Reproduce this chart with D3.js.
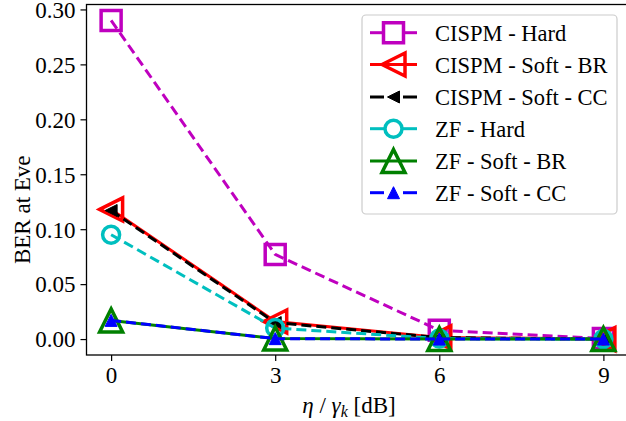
<!DOCTYPE html>
<html>
<head>
<meta charset="utf-8">
<script src="https://cdn.jsdelivr.net/npm/d3@7"></script>
<style>
  html, body { margin: 0; padding: 0; background: #fff; }
  svg { display: block; }
</style>
</head>
<body>
<svg id="chart" width="626" height="421"></svg>
<script>
// ---- data ----
const xValues = [0, 3, 6, 9];
const xTickLabels = ["0", "3", "6", "9"];
const yTickValues = [0.00, 0.05, 0.10, 0.15, 0.20, 0.25, 0.30];
const seriesNames = ["CISPM - Hard", "CISPM - Soft - BR", "CISPM - Soft - CC", "ZF - Hard", "ZF - Soft - BR", "ZF - Soft - CC"];
const cispmHard   = [0.290, 0.077, 0.008, 0.0005];
const cispmSoftBR = [0.118, 0.016, 0.0015, 0.0];
const cispmSoftCC = [0.117, 0.015, 0.0013, 0.0];
const zfHard      = [0.095, 0.010, 0.0005, 0.0];
const zfSoftBR    = [0.017, 0.0005, 0.0, 0.0];
const zfSoftCC    = [0.017, 0.0004, 0.0, 0.0];

const FONT = '"Liberation Serif", "Times New Roman", serif';

const styles = [
  { color: "#bf00bf", dash: "10,5", marker: "square", size: 20, fill: "none" },
  { color: "#ff0000", dash: null, marker: "triLeft", size: 23, fill: "none" },
  { color: "#000000", dash: "10,5", marker: "triLeft", size: 12, fill: "#000000" },
  { color: "#00bfbf", dash: "10,5", marker: "circle", size: 17, fill: "none" },
  { color: "#008000", dash: null, marker: "triUp", size: 23, fill: "none" },
  { color: "#0000ff", dash: "10,5", marker: "triUp", size: 12, fill: "#0000ff" }
];
const seriesValues = [cispmHard, cispmSoftBR, cispmSoftCC, zfHard, zfSoftBR, zfSoftCC];

const svg = d3.select("#chart");
const plot = { left: 86.5, right: 628, top: 4.5, bottom: 355 };

const x = d3.scaleLinear().domain([-0.45, 9.45]).range([plot.left, plot.right]);
const y = d3.scaleLinear().domain([-0.0145, 0.3045]).range([plot.bottom, plot.top]);

function markerPath(type, s) {
  const h = s / 2;
  if (type === "square") return `M${-h},${-h}L${h},${-h}L${h},${h}L${-h},${h}Z`;
  if (type === "triLeft") return `M${-h},0L${h},${-h}L${h},${h}Z`;
  if (type === "triUp") return `M0,${-h}L${h},${h}L${-h},${h}Z`;
  if (type === "circle") return d3.arc()({ innerRadius: 0, outerRadius: h, startAngle: 0, endAngle: 2 * Math.PI });
}

const g = svg.append("g");
const line = d3.line().x((d, i) => x(xValues[i])).y(d => y(d));

seriesValues.forEach((vals, si) => {
  const st = styles[si];
  const sg = g.append("g");
  sg.append("path").datum(vals)
    .attr("d", line)
    .attr("fill", "none")
    .attr("stroke", st.color)
    .attr("stroke-width", 3)
    .attr("stroke-dasharray", st.dash)
    .attr("stroke-linejoin", "round");
  sg.selectAll("path.mk").data(vals).enter().append("path")
    .attr("class", "mk")
    .attr("d", markerPath(st.marker, st.size))
    .attr("transform", (d, i) => `translate(${x(xValues[i])},${y(d)})`)
    .attr("fill", st.fill)
    .attr("stroke", st.color)
    .attr("stroke-width", st.fill === "none" ? 3.5 : 1)
    .attr("stroke-linejoin", "miter");
});

// axes
const xAxis = d3.axisBottom(x).tickValues(xValues).tickFormat((d, i) => xTickLabels[i]).tickSize(6).tickPadding(6);
const yAxis = d3.axisLeft(y).tickValues(yTickValues).tickFormat(d3.format(".2f")).tickSize(6).tickPadding(5);

const gx = svg.append("g").attr("transform", `translate(0,${plot.bottom})`).call(xAxis);
const gy = svg.append("g").attr("transform", `translate(${plot.left},0)`).call(yAxis);
[gx, gy].forEach(a => {
  a.attr("font-family", null).attr("font-size", null);
  a.select(".domain").remove();
  a.selectAll(".tick line").attr("stroke", "#000").attr("stroke-width", 1.2);
  a.selectAll(".tick text").style("font-family", FONT).style("font-size", "23px").attr("fill", "#000");
});
gy.selectAll(".tick text").attr("dy", "0.34em");

// spines
svg.append("rect")
  .attr("x", plot.left).attr("y", plot.top)
  .attr("width", plot.right - plot.left).attr("height", plot.bottom - plot.top)
  .attr("fill", "none").attr("stroke", "#000").attr("stroke-width", 1.3);

// axis labels
svg.append("text")
  .attr("transform", `translate(30,${(plot.top + plot.bottom) / 2 + 30}) rotate(-90)`)
  .attr("text-anchor", "middle")
  .style("font-family", FONT).style("font-size", "23px").text("BER at Eve");

const xl = svg.append("text").attr("x", 349).attr("y", 413)
  .attr("text-anchor", "middle").style("font-family", FONT).style("font-size", "23px");
xl.append("tspan").attr("font-style", "italic").text("η");
xl.append("tspan").text(" / ");
xl.append("tspan").attr("font-style", "italic").text("γ");
xl.append("tspan").attr("font-style", "italic").style("font-size", "16px").attr("dy", 4).text("k");
xl.append("tspan").attr("dy", -4).text(" [dB]");

// legend
const lg = svg.append("g");
lg.append("rect").attr("x", 362).attr("y", 15).attr("width", 255).attr("height", 199)
  .attr("rx", 4).attr("fill", "rgba(255,255,255,0.85)").attr("stroke", "#cccccc").attr("stroke-width", 1.2);
const rowY = [32.7, 64.5, 97, 128.7, 161, 192.7];
seriesNames.forEach((name, i) => {
  const st = styles[i];
  const ry = rowY[i];
  const segs = st.dash ? [[370, 384], [403, 417]] : [[370, 417]];
  segs.forEach(([a, b]) => {
    lg.append("line").attr("x1", a).attr("x2", b).attr("y1", ry).attr("y2", ry)
      .attr("stroke", st.color).attr("stroke-width", 3);
  });
  lg.append("path").attr("d", markerPath(st.marker, st.size))
    .attr("transform", `translate(393.5,${ry})`)
    .attr("fill", st.fill).attr("stroke", st.color)
    .attr("stroke-width", st.fill === "none" ? 3.5 : 1);
  lg.append("text").attr("x", 435).attr("y", ry + 8)
    .style("font-family", FONT).style("font-size", "22.5px").text(name);
});
</script>
</body>
</html>
